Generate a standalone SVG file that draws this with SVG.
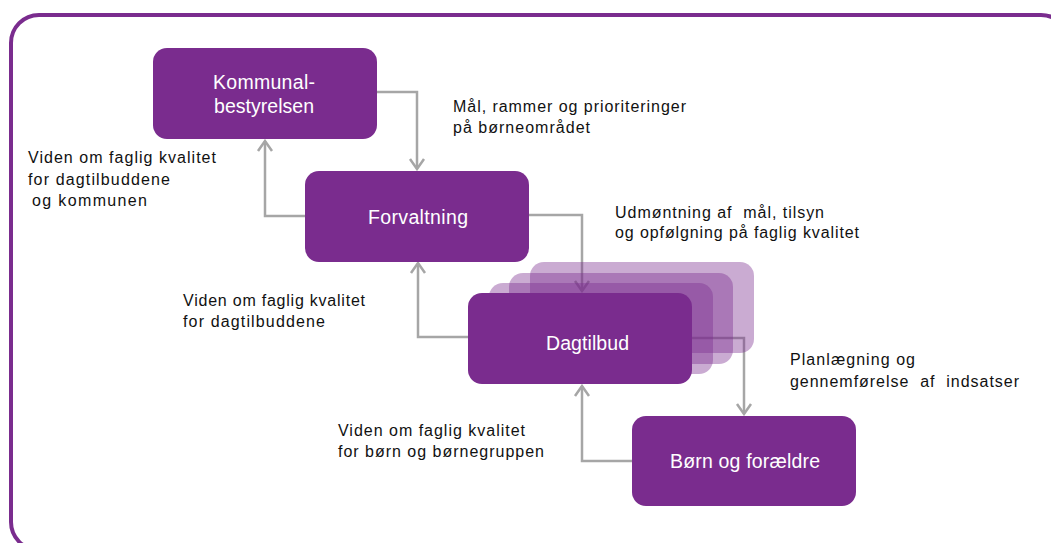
<svg xmlns="http://www.w3.org/2000/svg" width="1051" height="543" viewBox="0 0 1051 543">
<defs>
<style>
.node{fill:#7A2C8E}
.ghost{fill:#7A2C8E;fill-opacity:0.4}
.nt{font-family:"Liberation Sans",Arial,sans-serif;font-size:19.5px;fill:#FFFFFF}
.lb{font-family:"Liberation Sans",Arial,sans-serif;font-size:16px;fill:#111111;white-space:pre}
.conn{fill:none;stroke:#A6A6A6;stroke-width:2.5;marker-end:url(#arr)}
</style>
<marker id="arr" markerUnits="userSpaceOnUse" viewBox="0 0 14 18" markerWidth="14" markerHeight="18" refX="12" refY="9" orient="auto">
<path d="M2,2 L12,9 L2,16" fill="none" stroke="#A6A6A6" stroke-width="2.5"/>
</marker>
</defs>
<rect width="1051" height="543" fill="#FFFFFF"/>
<rect id="frame" x="11" y="15" width="1058" height="535" rx="28" fill="none" stroke="#7A2C8E" stroke-width="4"/>
<g id="connectors">
<path class="conn" d="M377,92 H417 V169"/>
<path class="conn" d="M305,216 H265 V141"/>
<path class="conn" d="M529,215 H582 V291"/>
<path class="conn" d="M468,337 H418 V263"/>
<path class="conn" d="M692,338 H744 V414"/>
<path class="conn" d="M632,461 H582 V386"/>
</g>
<g id="kommunalbestyrelsen">
<rect class="node" x="153" y="48" width="224" height="91" rx="14"/>
<text class="nt" x="213" y="89" textLength="102" lengthAdjust="spacing">Kommunal-</text>
<text class="nt" x="214" y="113" textLength="100" lengthAdjust="spacing">bestyrelsen</text>
</g>
<g id="forvaltning">
<rect class="node" x="305" y="171" width="224" height="91" rx="14"/>
<text class="nt" x="368" y="224" textLength="100" lengthAdjust="spacing">Forvaltning</text>
</g>
<g id="dagtilbud">
<rect class="ghost" x="530" y="262" width="224" height="91" rx="14"/>
<rect class="ghost" x="509" y="273" width="224" height="91" rx="14"/>
<rect class="ghost" x="489" y="283" width="224" height="91" rx="14"/>
<rect class="node" x="468" y="293" width="224" height="91" rx="14"/>
<text class="nt" x="546" y="350" textLength="83" lengthAdjust="spacing">Dagtilbud</text>
</g>
<g id="born-og-foraeldre">
<rect class="node" x="632" y="416" width="224" height="90" rx="14"/>
<text class="nt" x="670" y="468" textLength="150" lengthAdjust="spacing">Børn og forældre</text>
</g>
<g id="labels">
<text class="lb" x="28" y="163" textLength="188" lengthAdjust="spacing">Viden om faglig kvalitet</text>
<text class="lb" x="28" y="185" textLength="142" lengthAdjust="spacing">for dagtilbuddene</text>
<text class="lb" x="32" y="206" textLength="115" lengthAdjust="spacing">og kommunen</text>
<text class="lb" x="453" y="112" textLength="233" lengthAdjust="spacing">Mål, rammer og prioriteringer</text>
<text class="lb" x="453" y="133" textLength="137" lengthAdjust="spacing">på børneområdet</text>
<text class="lb" x="615" y="218" textLength="209" lengthAdjust="spacing">Udmøntning af  mål, tilsyn</text>
<text class="lb" x="615" y="238" textLength="244" lengthAdjust="spacing">og opfølgning på faglig kvalitet</text>
<text class="lb" x="183" y="306" textLength="182" lengthAdjust="spacing">Viden om faglig kvalitet</text>
<text class="lb" x="183" y="327" textLength="142" lengthAdjust="spacing">for dagtilbuddene</text>
<text class="lb" x="790" y="365" textLength="125" lengthAdjust="spacing">Planlægning og</text>
<text class="lb" x="790" y="387" textLength="229" lengthAdjust="spacing">gennemførelse  af  indsatser</text>
<text class="lb" x="338" y="436" textLength="187" lengthAdjust="spacing">Viden om faglig kvalitet</text>
<text class="lb" x="338" y="457" textLength="206" lengthAdjust="spacing">for børn og børnegruppen</text>
</g>
</svg>
